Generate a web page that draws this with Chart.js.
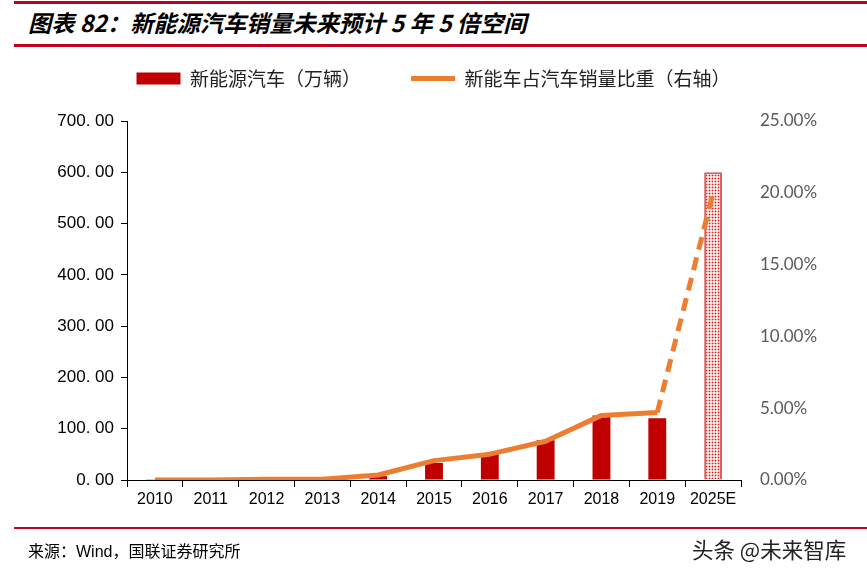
<!DOCTYPE html>
<html><head><meta charset="utf-8">
<script src="https://cdn.jsdelivr.net/npm/chart.js@4/dist/chart.umd.min.js"></script>
<style>
html,body{margin:0;padding:0;background:#fff;width:867px;height:575px;overflow:hidden;}
#wrap{position:relative;width:867px;height:575px;}
#c{position:absolute;left:0;top:0;}
.rl{position:absolute;left:14px;right:0;height:3px;background:#C00020;}
#title{position:absolute;left:28px;top:7px;font-family:"Noto Sans CJK SC";font-weight:bold;font-style:italic;font-size:23.2px;color:#000;white-space:nowrap;line-height:30px;}
#src{position:absolute;left:28px;top:538px;font-family:"Liberation Sans","Noto Sans CJK SC";font-size:16px;color:#000;white-space:nowrap;}
#wm{position:absolute;left:692px;top:533px;font-family:"Noto Sans CJK SC";font-size:21.5px;color:#222;white-space:nowrap;}
</style></head>
<body><div id="wrap">
<div class="rl" style="top:1px"></div>
<div id="title">图表 82：新能源汽车销量未来预计 5 年 5 倍空间</div>
<div class="rl" style="top:44px"></div>
<canvas id="c" width="867" height="575"></canvas>
<div class="rl" style="top:527px;height:2px"></div>
<div id="src">来源：Wind，国联证券研究所</div>
<div id="wm">头条 @未来智库</div>
</div>
<script>
const categories = ['2010','2011','2012','2013','2014','2015','2016','2017','2018','2019','2025E'];
const nevSales = [0.5, 0.8, 1.3, 1.8, 7.5, 33.1, 50.7, 77.7, 125.6, 120.6, 600];
const nevShare = [0.0, 0.0, 0.05, 0.05, 0.35, 1.35, 1.8, 2.7, 4.5, 4.7, 20.0];
const leftTicks = [0, 100, 200, 300, 400, 500, 600, 700];
const rightTicks = [0, 5, 10, 15, 20, 25];

function makePattern(){
  const p = document.createElement('canvas'); p.width = 3; p.height = 3;
  const g = p.getContext('2d');
  g.fillStyle = '#fbeaea'; g.fillRect(0,0,3,3);
  g.fillStyle = '#f0b0b0'; g.fillRect(0,1,3,1); g.fillRect(1,0,1,3);
  g.fillStyle = '#d01818'; g.fillRect(1,1,1,1);
  return document.getElementById('c').getContext('2d').createPattern(p,'repeat');
}
const pat = makePattern();
const last = categories.length - 1;

const legendSpacer = {
  id: 'legendSpacer',
  beforeLayout(chart){
    const lg = chart.legend;
    if (lg && !lg._patched){
      const orig = lg.fit;
      lg.fit = function(){ orig.call(this); this.height += 23; };
      lg._patched = true;
    }
  }
};

new Chart(document.getElementById('c'), {
  data: {
    labels: categories,
    datasets: [
      {
        type: 'bar', label: '新能源汽车（万辆）', data: nevSales, yAxisID: 'y', order: 1,
        backgroundColor: nevSales.map((v,i)=> i===last ? pat : '#C00000'),
        borderColor: nevSales.map((v,i)=> i===last ? '#d86060' : '#C00000'),
        borderWidth: nevSales.map((v,i)=> i===last ? 2 : 0),
        categoryPercentage: 1, barPercentage: 0.32
      },
      {
        type: 'line', label: '新能车占汽车销量比重（右轴）', data: nevShare, yAxisID: 'y1', order: 0,
        borderColor: '#ED7D31', backgroundColor: '#ED7D31', borderWidth: 5,
        pointRadius: 0, tension: 0, borderCapStyle: 'butt', borderJoinStyle: 'round',
        segment: { borderDash: ctx => ctx.p1DataIndex === last ? [13, 8] : undefined }
      }
    ]
  },
  options: {
    responsive: false, animation: false, devicePixelRatio: 1,
    layout: { padding: { top: 19, bottom: 65, left: 0, right: 0 } },
    plugins: {
      tooltip: { enabled: false },
      legend: {
        position: 'top', align: 'center',
        labels: {
          usePointStyle: true, pointStyleWidth: 44, boxHeight: 12, padding: 50,
          color: '#222', font: { family: '"Noto Sans CJK SC"', size: 19 },
          sort: (a,b) => a.datasetIndex - b.datasetIndex,
          generateLabels(chart){
            const items = Chart.defaults.plugins.legend.labels.generateLabels(chart);
            items.forEach(it => { it.pointStyle = it.datasetIndex === 0 ? 'rect' : 'line'; if (it.datasetIndex===0){ it.lineWidth = 0; it.fillStyle = '#C00000'; } });
            return items;
          }
        }
      }
    },
    scales: {
      x: {
        offset: true,
        grid: { offset: true, drawOnChartArea: false, tickLength: 7, color: '#000', lineWidth: 1 },
        border: { color: '#000', width: 1 },
        ticks: { color: '#000', font: { family: '"Liberation Sans"', size: 16 }, padding: 3, maxRotation: 0 },
        afterFit(s){ s.height = 30; }
      },
      y: {
        position: 'left', min: 0, max: 700,
        afterBuildTicks(s){ s.ticks = leftTicks.map(v => ({value: v})); },
        grid: { drawOnChartArea: false, tickLength: 6, color: '#000' },
        border: { color: '#000', width: 1 },
        ticks: { color: '#000', font: { family: '"Liberation Sans"', size: 17 }, padding: 7,
          callback: v => { const s = Number(v).toFixed(2).split('.'); return s[0] + '. ' + s[1]; } },
        afterFit(s){ s.width = 127; }
      },
      y1: {
        position: 'right', min: 0, max: 25,
        afterBuildTicks(s){ s.ticks = rightTicks.map(v => ({value: v})); },
        grid: { display: false, drawOnChartArea: false, drawTicks: false },
        border: { display: false },
        ticks: { color: '#595959', font: { family: 'Lato', size: 17 }, padding: 19,
          callback: v => Number(v).toFixed(2) + '%' },
        afterFit(s){ s.width = 126; }
      }
    }
  },
  plugins: [legendSpacer]
});
</script>
</body></html>
